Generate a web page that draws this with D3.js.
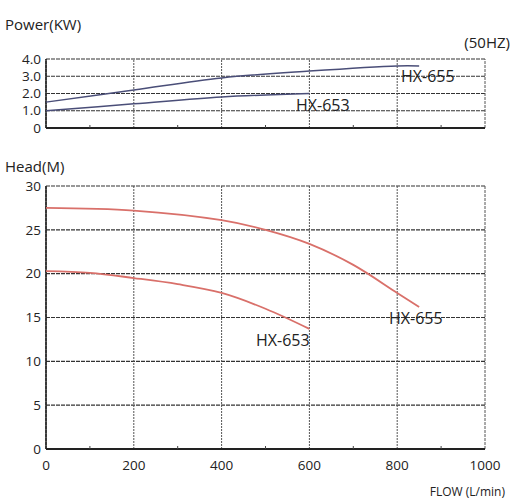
<!DOCTYPE html>
<html><head><meta charset="utf-8">
<script src="https://cdn.jsdelivr.net/npm/d3@7"></script>
<style>body{margin:0;background:#fff}text{font-family:"Open Sans",sans-serif;fill:#222}</style>
</head><body>
<script>
const flowTicks = [0, 200, 400, 600, 800, 1000];
const powerTicks = [0, 1, 2, 3, 4];
const powerLabels = ["0", "1.0", "2.0", "3.0", "4.0"];
const headTicks = [0, 5, 10, 15, 20, 25, 30];

const power655 = [[0,1.5],[200,2.2],[400,2.9],[600,3.3],[800,3.6],[850,3.6]];
const power653 = [[0,1.0],[200,1.4],[400,1.8],[600,2.0]];
const head655 = [[0,27.5],[200,27.2],[400,26.1],[500,25.0],[600,23.4],[700,21.0],[800,17.8],[850,16.2]];
const head653 = [[0,20.3],[100,20.1],[200,19.5],[300,18.8],[400,17.8],[500,16.0],[600,13.7]];

const svg = d3.select("body").append("svg").attr("width", 516).attr("height", 500);
const x = d3.scaleLinear().domain([0, 1000]).range([46, 485]);
const yP = d3.scaleLinear().domain([0, 4]).range([128, 59]);
const yH = d3.scaleLinear().domain([0, 30]).range([449, 186]);

function panel(y, ticks, labels) {
  const g = svg.append("g");
  g.selectAll(".h").data(ticks).join("line")
    .attr("x1", x(0)).attr("x2", x(1000)).attr("y1", y).attr("y2", y)
    .attr("stroke", "#333").attr("stroke-width", 1.2)
    .attr("stroke-dasharray", d => d === 0 ? null : "4,1");
  g.selectAll(".v").data(flowTicks).join("line")
    .attr("x1", x).attr("x2", x).attr("y1", y(0)).attr("y2", y(ticks[ticks.length-1]))
    .attr("stroke", "#555").attr("stroke-width", d => d === 0 ? 1.5 : 1)
    .attr("stroke-dasharray", d => d === 0 || d === 1000 ? "3,1" : "2,1");
  g.append("line").attr("x1", x(0)).attr("x2", x(1000)).attr("y1", y(0)).attr("y2", y(0))
    .attr("stroke", "#222").attr("stroke-width", 2);
  g.append("line").attr("x1", x(0)).attr("x2", x(0)).attr("y1", y(0)).attr("y2", y(ticks[ticks.length-1]))
    .attr("stroke", "#222").attr("stroke-width", 1.5);
  g.selectAll(".t").data(ticks).join("text")
    .attr("x", x(0) - 5).attr("y", y).attr("dy", "0.35em")
    .attr("text-anchor", "end").attr("font-size", 13.5)
    .text((d, i) => labels[i]);
  g.selectAll(".mt").data(d3.range(100, 1000, 200)).join("line")
    .attr("x1", x).attr("x2", x).attr("y1", y(0)).attr("y2", y(0) - 3)
    .attr("stroke", "#444");
}
panel(yP, powerTicks, powerLabels);
panel(yH, headTicks, headTicks.map(String));

svg.append("g").selectAll("text").data(flowTicks).join("text")
  .attr("x", x).attr("y", 470).attr("text-anchor", "middle").attr("font-size", 13.5)
  .text(d => d);

const line = (yS) => d3.line().x(d => x(d[0])).y(d => yS(d[1])).curve(d3.curveCatmullRom);
[power655, power653].forEach(s => svg.append("path").attr("d", line(yP)(s))
  .attr("fill", "none").attr("stroke", "#4a4e78").attr("stroke-width", 1.5));
[head655, head653].forEach(s => svg.append("path").attr("d", line(yH)(s))
  .attr("fill", "none").attr("stroke", "#d9706a").attr("stroke-width", 1.8));

const txt = (tx, ty, s, size, anchor) => svg.append("text").attr("x", tx).attr("y", ty)
  .attr("font-size", size).attr("text-anchor", anchor || "start").text(s);
txt(5, 30, "Power(KW)", 15);
txt(510, 48, "(50HZ)", 15, "end");
txt(5, 172, "Head(M)", 15);
txt(401, 82, "HX-655", 16);
txt(296, 111, "HX-653", 16);
txt(389, 324, "HX-655", 16);
txt(256, 346, "HX-653", 16);
txt(505, 496, "FLOW (L/min)", 12, "end");
</script>
</body></html>
